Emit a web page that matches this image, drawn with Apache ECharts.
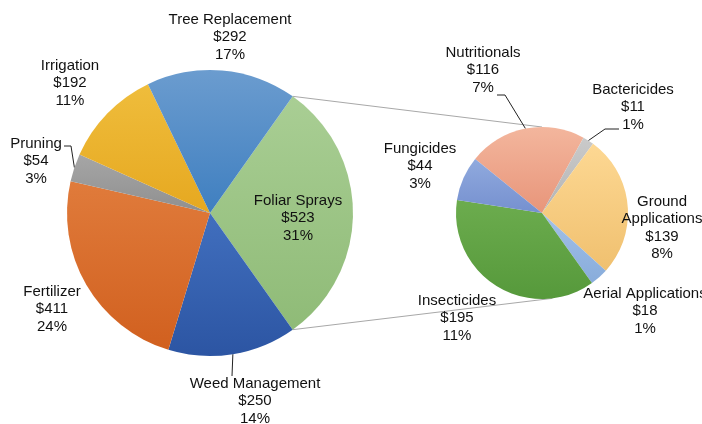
<!DOCTYPE html>
<html>
<head>
<meta charset="utf-8">
<script src="https://cdn.jsdelivr.net/npm/echarts@6/dist/echarts.min.js"></script>
<style>
  html, body { margin: 0; padding: 0; background: #fff; }
  #chart { width: 702px; height: 424px; }
</style>
</head>
<body>
<div id="chart"></div>
<script>
// main pie, clockwise starting with the exploded slice
const mainNames = ['Foliar Sprays', 'Weed Management', 'Fertilizer', 'Pruning', 'Irrigation', 'Tree Replacement']
const mainValues = [523, 250, 411, 54, 192, 292]
const mainPct = ['31%', '14%', '24%', '3%', '11%', '17%']

// breakdown of Foliar Sprays
const subNames = ['Nutritionals', 'Bactericides', 'Ground\nApplications', 'Aerial Applications', 'Insecticides', 'Fungicides']
const subValues = [116, 11, 139, 18, 195, 44]
const subPct = ['7%', '1%', '8%', '1%', '11%', '3%']

// colours (top, bottom of gradient)
const mainColors = [
  ['#a9ce94', '#8fbb77'], ['#416fbe', '#2c55a3'], ['#e07b3b', '#d1601f'],
  ['#a6a6a6', '#8f8f8f'], ['#efbd3c', '#e6a820'], ['#6b9ccf', '#3f7fc0']
]
const subColors = [
  ['#f3b69d', '#e8957a'], ['#cacaca', '#b4b4b4'], ['#fdd893', '#f0c06f'],
  ['#a3c1e7', '#88acdb'], ['#6cac4e', '#56993b'], ['#90aade', '#7590cf']
]

const MAIN_C = [210, 213]
const MAIN_R = 143
const SUB_C = [542, 213]
const SUB_R = 86
const mainTotal = mainValues.reduce((a, b) => a + b, 0)
const mainStart = 360 * mainValues[0] / mainTotal / 2
const subStart = 141

// label block centres
const mainLabelPos = [[298, 218], [255, 401], [52, 309], [36, 161], [70, 83], [230, 37]]
const subLabelPos = [[483, 70], [633, 107], [662, 228], [645, 311], [457, 318], [420, 166]]
// leader lines: [elbow, end] (null = no leader)
const mainLeader = [null, [[232, 376], [232, 376]], null, [[71, 146], [64, 146]], null, null]
const subLeader = [[[505, 95], [497, 95]], [[605, 129], [619, 129]], null, null, null, null]

const grad = c => new echarts.graphic.LinearGradient(0, 0, 0, 1, [
  { offset: 0, color: c[0] }, { offset: 1, color: c[1] }
])

const rad = d => d * Math.PI / 180
const pt = (c, r, a) => [c[0] + r * Math.cos(rad(a)), c[1] - r * Math.sin(rad(a))]

function makeData (names, values, colors, leaders) {
  return names.map((n, i) => ({
    name: n,
    value: values[i],
    itemStyle: { color: grad(colors[i]) },
    labelLine: { show: !!leaders[i] }
  }))
}

function layoutFn (pos, leaders) {
  return function (params) {
    const i = params.dataIndex
    const out = { x: pos[i][0], y: pos[i][1], align: 'center', verticalAlign: 'middle' }
    if (leaders[i] && params.labelLinePoints) {
      out.labelLinePoints = [params.labelLinePoints[0], leaders[i][0], leaders[i][1]]
    }
    return out
  }
}

const labelBase = {
  show: true,
  position: 'outside',
  color: '#111',
  fontFamily: '"Liberation Sans", Arial, Helvetica, sans-serif',
  fontSize: 15,
  lineHeight: 17.5,
  align: 'center',
  overflow: 'none'
}

const topA = mainStart
const botA = -mainStart
const mTop = pt(MAIN_C, MAIN_R, topA)
const mBot = pt(MAIN_C, MAIN_R, botA)
const sTop = pt(SUB_C, SUB_R, 90)
const sBot = pt(SUB_C, SUB_R, -83)

const chart = echarts.init(document.getElementById('chart'))
chart.setOption({
  animation: false,
  backgroundColor: '#fff',
  graphic: [
    { type: 'line', z: 0, shape: { x1: mTop[0], y1: mTop[1], x2: sTop[0], y2: sTop[1] }, style: { stroke: '#a8a8a8', lineWidth: 1 } },
    { type: 'line', z: 0, shape: { x1: mBot[0], y1: mBot[1], x2: sBot[0], y2: sBot[1] }, style: { stroke: '#a8a8a8', lineWidth: 1 } }
  ],
  series: [
    {
      type: 'pie',
      center: MAIN_C,
      radius: MAIN_R,
      startAngle: mainStart,
      clockwise: true,
      avoidLabelOverlap: false,
      emphasis: { disabled: true },
      itemStyle: { borderWidth: 0 },
      label: Object.assign({}, labelBase, {
        formatter: p => p.name + '\n$' + p.value + '\n' + mainPct[p.dataIndex]
      }),
      labelLine: { lineStyle: { color: '#222', width: 1 } },
      labelLayout: layoutFn(mainLabelPos, mainLeader),
      data: makeData(mainNames, mainValues, mainColors, mainLeader)
    },
    {
      type: 'pie',
      center: SUB_C,
      radius: SUB_R,
      startAngle: subStart,
      clockwise: true,
      avoidLabelOverlap: false,
      emphasis: { disabled: true },
      itemStyle: { borderWidth: 0 },
      label: Object.assign({}, labelBase, {
        formatter: p => p.name + '\n$' + p.value + '\n' + subPct[p.dataIndex]
      }),
      labelLine: { lineStyle: { color: '#222', width: 1 } },
      labelLayout: layoutFn(subLabelPos, subLeader),
      data: makeData(subNames, subValues, subColors, subLeader)
    }
  ]
})
</script>
</body>
</html>
